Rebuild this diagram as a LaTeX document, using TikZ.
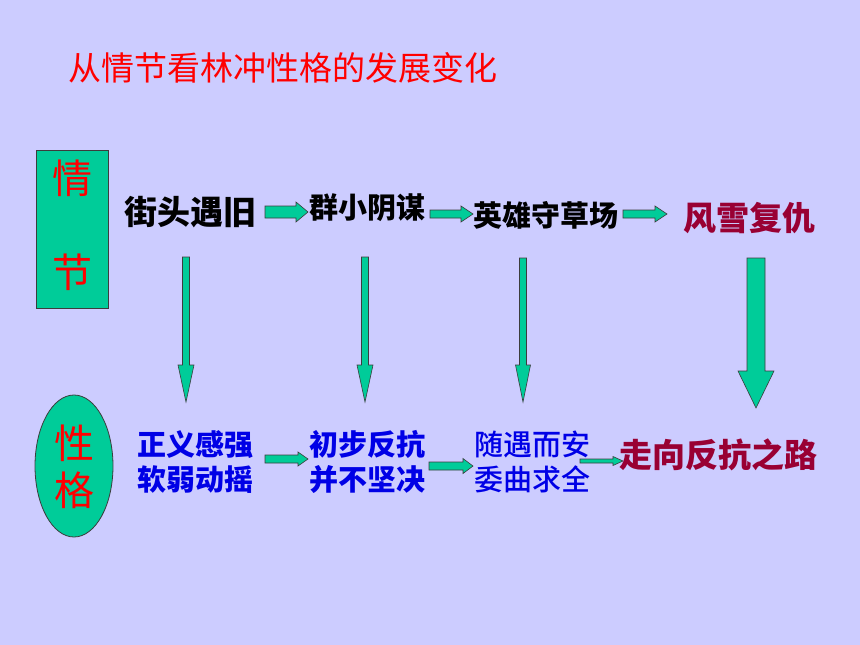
\documentclass[tikz,border=0pt]{standalone}
\usepackage{fontspec}
\newfontfamily\cjk{Noto Sans CJK SC}
\newfontfamily\cjkmed{Noto Sans CJK SC}[UprightFont=* Medium]
\definecolor{bg}{RGB}{204,204,255}
\definecolor{grn}{RGB}{0,204,153}
\definecolor{dred}{RGB}{153,0,51}
\definecolor{tblue}{RGB}{0,0,230}
\definecolor{edge}{RGB}{60,60,60}
\tikzset{
  arrowstyle/.style={fill=grn,draw=edge,line width=0.6pt,line join=miter},
  txt/.style={inner sep=0pt,font=\cjk},
}
\newcommand\harr[6]{% x1 x2 y shaft-half head-half head-len
  \filldraw[arrowstyle] (#1,#3-#4) -- (#2-#6,#3-#4) -- (#2-#6,#3-#5) -- (#2,#3) -- (#2-#6,#3+#5) -- (#2-#6,#3+#4) -- (#1,#3+#4) -- cycle;}
\newcommand\varr[6]{% x y1 y2 shaft-half head-half head-len
  \filldraw[arrowstyle] (#1-#4,#2) -- (#1-#4,#3-#6) -- (#1-#5,#3-#6) -- (#1,#3) -- (#1+#5,#3-#6) -- (#1+#4,#3-#6) -- (#1+#4,#2) -- cycle;}
\begin{document}
\begin{tikzpicture}[x=1pt,y=-1pt]
\fill[bg] (0,0) rectangle (860,645);
\useasboundingbox (0,0) rectangle (860,645);
% title
\node[txt,text=red,font=\cjk\fontsize{33}{36}\selectfont] (title) at (283,68) {从情节看林冲性格的发展变化};
% left box
\filldraw[fill=grn,draw=edge,line width=0.8pt] (36,150) rectangle (108,308);
\node[txt,text=red,font=\cjk\fontsize{40}{44}\selectfont] (q1) at (72,178) {情};
\node[txt,text=red,font=\cjk\fontsize{40}{44}\selectfont] (q2) at (72,272) {节};
% ellipse
\filldraw[fill=grn,draw=edge,line width=0.8pt] (74,466) ellipse [x radius=39,y radius=71];
\node[txt,text=red,font=\cjk\fontsize{40}{44}\selectfont] (x1) at (74,443) {性};
\node[txt,text=red,font=\cjk\fontsize{40}{44}\selectfont] (x2) at (74,490) {格};
% top row
\node[txt,font=\cjk\bfseries\fontsize{33}{36}\selectfont] (a) at (190,212) {街头遇旧};
\node[txt,font=\cjk\bfseries\fontsize{29}{32}\selectfont] (b) at (367,208) {群小阴谋};
\node[txt,font=\cjk\bfseries\fontsize{29}{32}\selectfont] (c) at (546,215) {英雄守草场};
\node[txt,text=dred,font=\cjk\bfseries\fontsize{33}{36}\selectfont] (d) at (749,218) {风雪复仇};
% bottom row
\node[txt,text=tblue,align=center,font=\cjk\bfseries\fontsize{29}{35}\selectfont] (e) at (195,462) {正义感强\\软弱动摇};
\node[txt,text=tblue,align=center,font=\cjk\bfseries\fontsize{29}{35}\selectfont] (f) at (367,462) {初步反抗\\并不坚决};
\node[txt,text=tblue,align=center,font=\cjkmed\fontsize{29}{35}\selectfont] (g) at (532,462) {随遇而安\\委曲求全};
\node[txt,text=dred,font=\cjk\bfseries\fontsize{33}{36}\selectfont] (h) at (718,455) {走向反抗之路};
% horizontal arrows
\harr{265}{308}{212}{6}{10}{12}
\harr{430}{473}{214}{4}{8}{12}
\harr{623}{667}{214}{4}{8}{12}
\harr{265}{308}{459}{4}{7}{10}
\harr{429}{473}{466}{4}{7.5}{10}
\harr{580}{623}{461}{2}{4.5}{10}
% vertical arrows
\varr{186}{257}{402}{3.5}{8}{37}
\varr{365}{257}{402}{3.5}{8}{37}
\varr{523}{258}{402}{3.5}{7.5}{37}
\varr{756}{258}{408}{9}{18}{37}
\end{tikzpicture}
\end{document}
